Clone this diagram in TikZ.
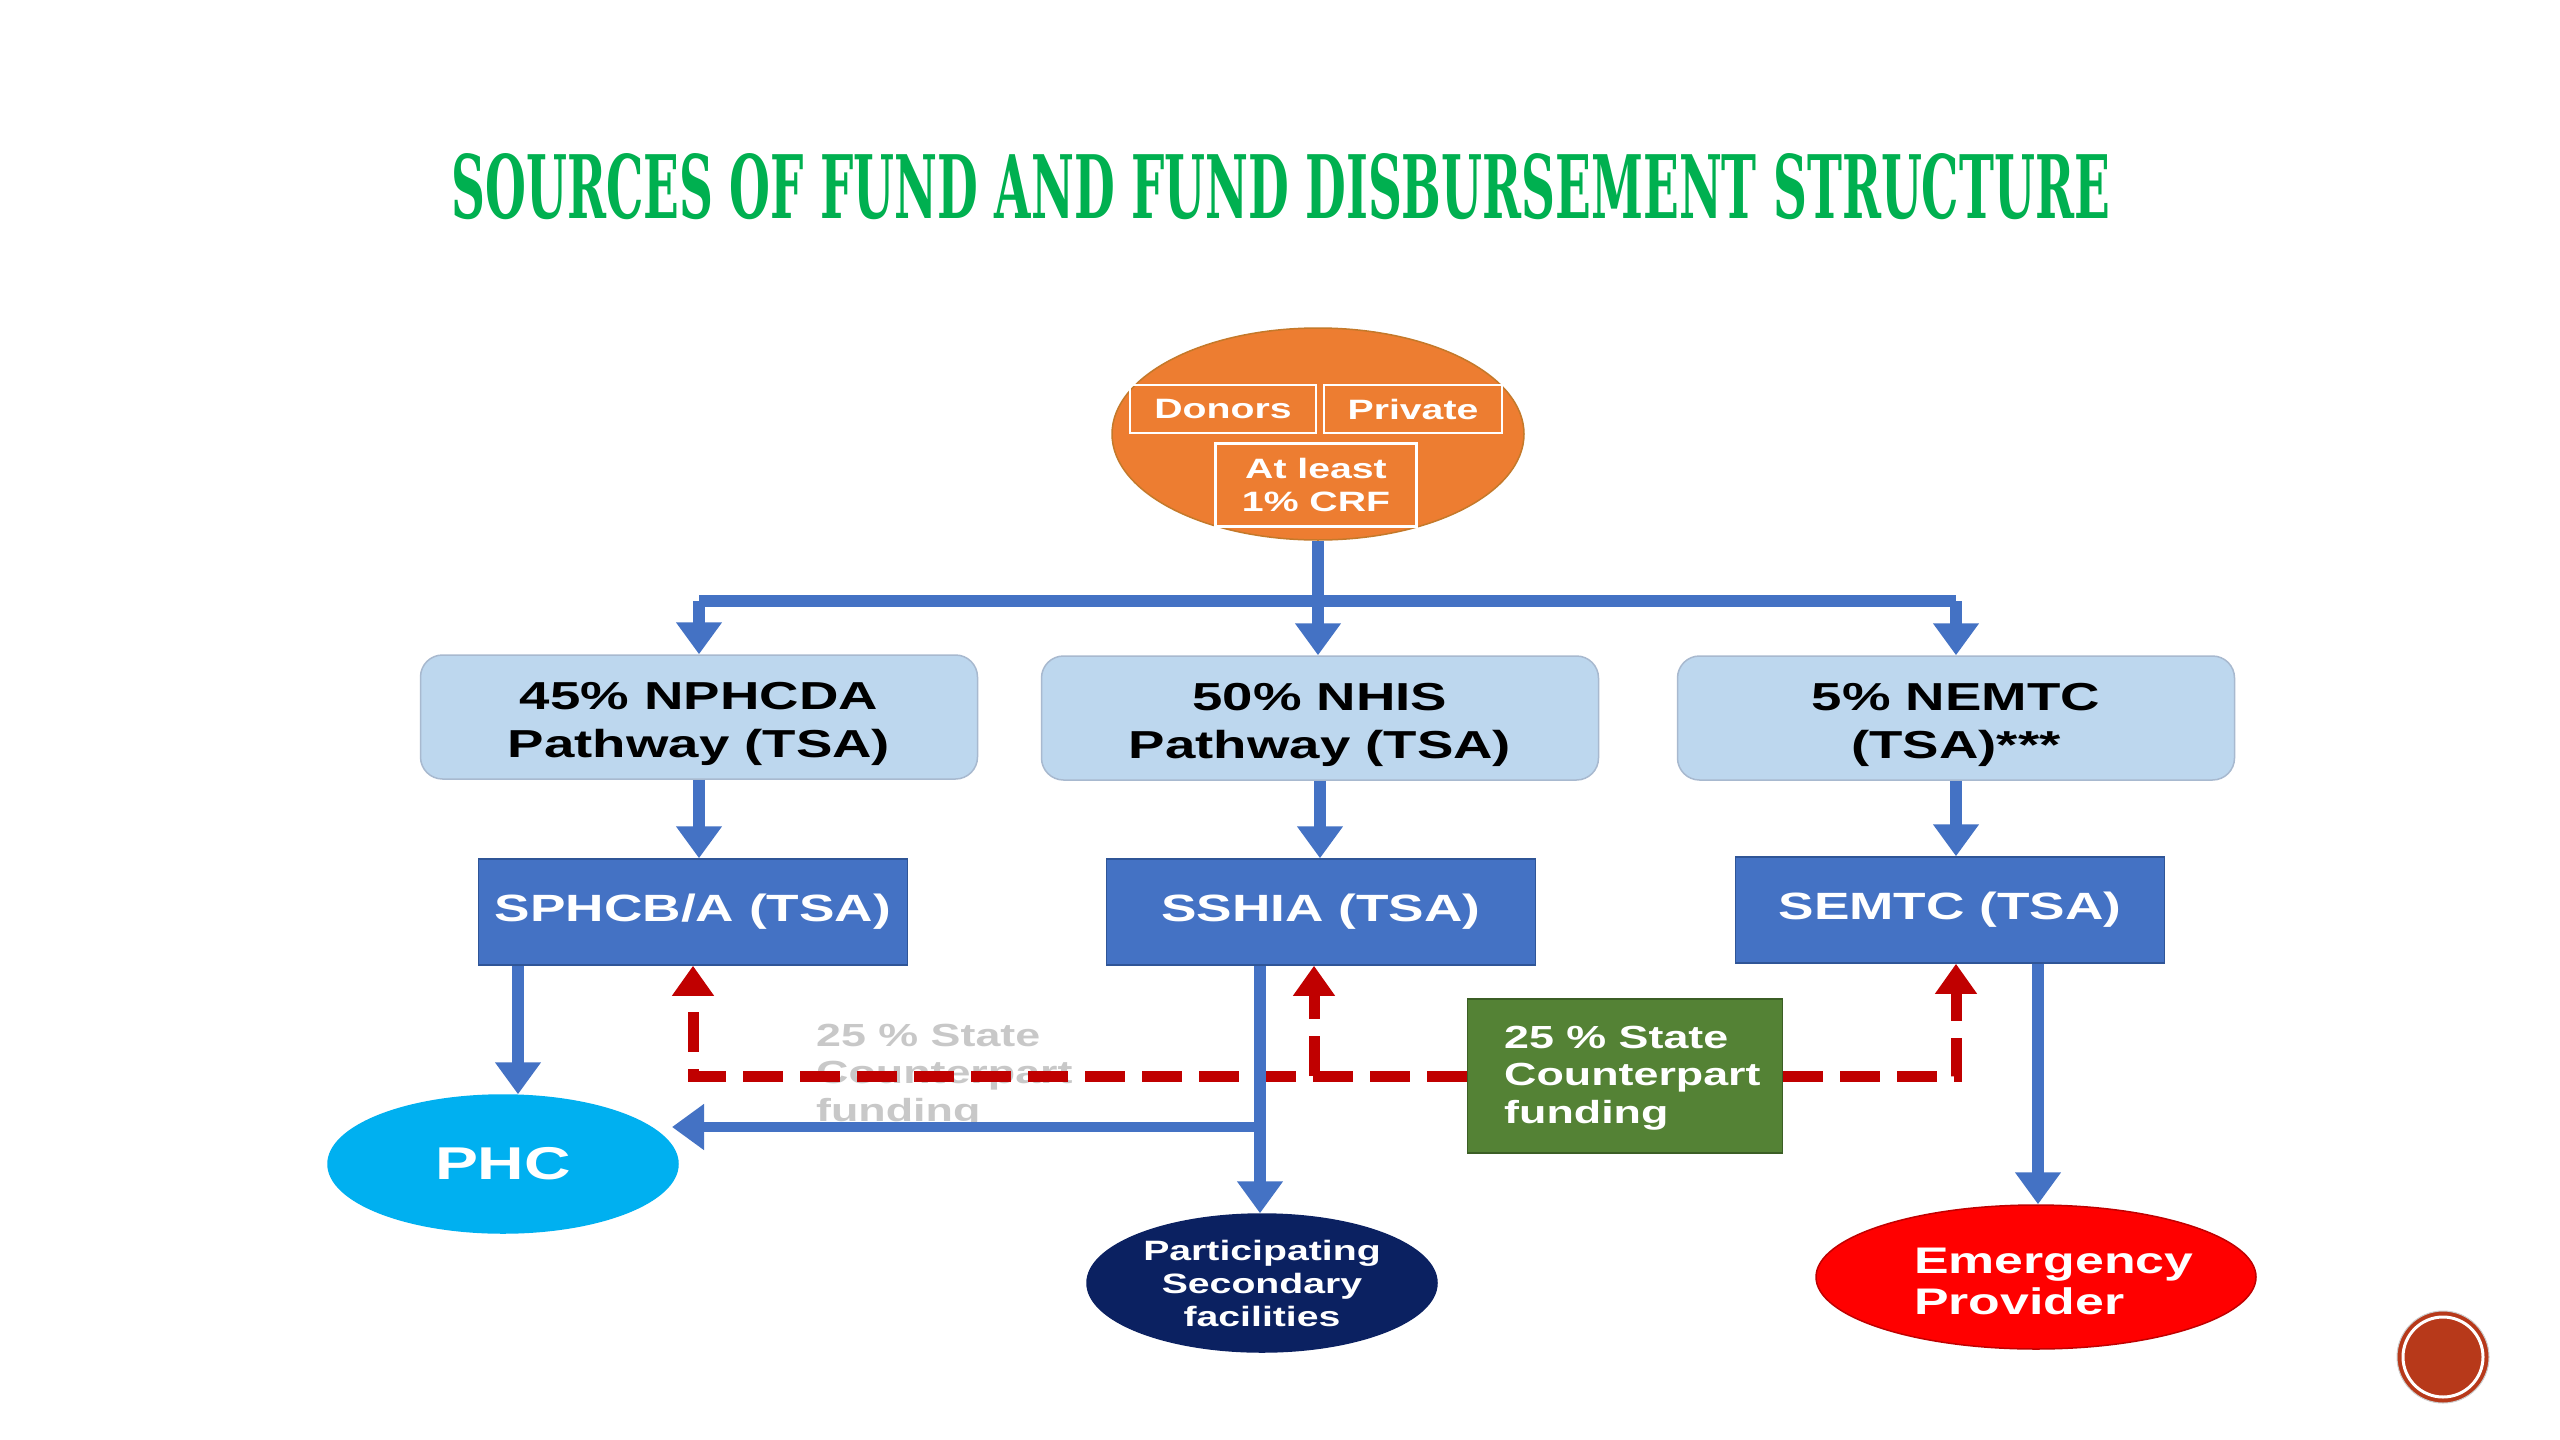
\documentclass[tikz,border=0pt]{standalone}
\usepackage{fontspec}
\usepackage{graphicx}
\setmainfont{Liberation Sans}[FakeStretch=1.4]
\newfontfamily\titlefont{DejaVu Serif}
\usetikzlibrary{shapes.geometric,arrows.meta,calc}
\definecolor{titlegreen}{HTML}{00B050}
\definecolor{orangefill}{HTML}{ED7D31}
\definecolor{orangeedge}{HTML}{C4792A}
\definecolor{lightblue}{HTML}{BDD7EE}
\definecolor{lightedge}{HTML}{A8B9CF}
\definecolor{midblue}{HTML}{4472C4}
\definecolor{midedge}{HTML}{2F5597}
\definecolor{phcblue}{HTML}{00B0F0}
\definecolor{navy}{HTML}{0B2161}
\definecolor{emred}{HTML}{FF0000}
\definecolor{emedge}{HTML}{C00000}
\definecolor{boxgreen}{HTML}{548235}
\definecolor{greenedge}{HTML}{3B5E25}
\definecolor{dashred}{HTML}{C00000}
\definecolor{badgecol}{HTML}{B7391A}
\definecolor{fadegray}{HTML}{C8C8C8}
\tikzset{
  lbox/.style={draw=lightedge, fill=lightblue, rounded corners=22pt, line width=1.5pt,
    minimum width=557pt, minimum height=124pt, inner sep=0pt},
  ltext/.style={align=center, inner sep=0pt,
    font=\fontsize{39}{48}\selectfont\bfseries, text=black},
  dbox/.style={draw=midedge, fill=midblue, line width=1.5pt, inner sep=0pt,
    minimum width=429pt, minimum height=106pt,
    font=\fontsize{38}{46}\selectfont\bfseries, text=white},
  ell/.style={ellipse, inner sep=0pt, line width=1.5pt, align=center, text=white},
  wbox/.style={draw=white, line width=2.5pt, align=center, text=white, inner sep=0pt,
    font=\fontsize{28}{33}\selectfont\bfseries},
  bluearr/.style={draw=midblue, line width=12pt, -{Triangle[width=44pt,length=32pt]}},
  blueline/.style={draw=midblue, line width=12pt},
  redarr/.style={draw=dashred, line width=11pt, dash pattern=on 40pt off 17pt,
    -{Triangle[width=40pt,length=30pt]}},
  cptext/.style={align=left, inner sep=0pt, font=\fontsize{32}{37.5}\selectfont\bfseries}
}
\begin{document}
\begin{tikzpicture}[x=1pt,y=-1pt]
\useasboundingbox[fill=white] (0,0) rectangle (2560,1440);

% title
\node[anchor=south, inner sep=0pt, text=titlegreen] (title) at (1281,220)
  {\resizebox{1658pt}{65pt}{\titlefont\bfseries SOURCES OF FUND AND FUND DISBURSEMENT STRUCTURE}};

% sources ellipse
\node[ell, fill=orangefill, draw=orangeedge, minimum width=412pt, minimum height=212pt] (src) at (1318,434) {};
\node[wbox, minimum width=186pt, minimum height=48pt] (donors) at (1223,409) {Donors};
\node[wbox, minimum width=178pt, minimum height=48pt] (private) at (1413,409) {Private};
\node[wbox, minimum width=201pt, minimum height=83pt] (crf) at (1316,485) {At least\\1\% CRF};

% pathway boxes
\node[lbox] (np) at (699,717) {};
\node[ltext] (nptext) at (699,724) {45\% NPHCDA\\Pathway (TSA)};
\node[lbox] (nh) at (1320,718) {};
\node[ltext] (nhtext) at (1320,725) {50\% NHIS\\Pathway (TSA)};
\node[lbox] (ne) at (1956,718) {};
\node[ltext] (netext) at (1956,725) {5\% NEMTC\\(TSA)***};

% TSA boxes
\node[dbox] (sp) at (693,912) {SPHCB/A (TSA)};
\node[dbox] (ss) at (1321,912) {SSHIA (TSA)};
\node[dbox] (se) at (1950,910) {SEMTC (TSA)};

% providers
\node[ell, fill=phcblue, draw=phcblue, minimum width=350pt, minimum height=138pt,
  font=\fontsize{46}{50}\selectfont\bfseries] (phc) at (503,1164) {PHC};
\node[ell, fill=navy, draw=navy, minimum width=350pt, minimum height=138pt,
  font=\fontsize{28}{33}\selectfont\bfseries] (psf) at (1262,1283) {Participating\\Secondary\\facilities};
\node[ell, fill=emred, draw=emedge, minimum width=440pt, minimum height=144pt] (emp) at (2036,1277) {};
\node[anchor=west, align=left, inner sep=0pt, text=white,
  font=\fontsize{37}{41}\selectfont\bfseries] (emtext) at (1914,1281) {Emergency\\Provider};

% faded text
\node[cptext, anchor=west, text=fadegray] (fade) at (816,1076) {25 \% State\\Counterpart\\funding};

% green box
\node[draw=greenedge, fill=boxgreen, line width=1.5pt, minimum width=315pt, minimum height=154pt, inner sep=0pt] (grn) at (1625,1076) {};
\node[cptext, anchor=west, text=white] (grntext) at (1504,1078) {25 \% State\\Counterpart\\funding};

% coordinates
\coordinate (split) at (1318,601);
\coordinate (xphc) at (518,0);
\coordinate (xsec) at (1260,0);
\coordinate (xem) at (2038,0);
\coordinate (branch) at (1260,1127);
\coordinate (phcin) at (672,1127);
\coordinate (redmid) at (1314,1076);

% top distribution
\draw[blueline] (np.north |- split) -- (ne.north |- split);
\draw[bluearr] (src.south) -- (nh.north -| src.south);
\draw[bluearr] (np.north |- split) -- (np.north);
\draw[bluearr] (ne.north |- split) -- (ne.north);

% pathway to TSA
\draw[bluearr] (np.south) -- (sp.north -| np.south);
\draw[bluearr] (nh.south) -- (ss.north -| nh.south);
\draw[bluearr] (ne.south) -- (se.north -| ne.south);

% red dashed counterpart
\draw[redarr] (grn.west) -| (sp.south);
\draw[redarr] (redmid) -- (ss.south -| redmid);
\draw[redarr] (grn.east) -| (se.south -| ne.south);

% TSA to providers
\draw[bluearr] (sp.south -| xphc) -- (phc.north -| xphc);
\draw[bluearr] (ss.south -| xsec) -- (psf.north -| xsec);
\draw[bluearr, line width=10pt] (branch) -- (phcin);
\draw[bluearr] (se.south -| xem) -- (emp.north -| xem);

% badge
\node[circle, fill=badgecol, draw=gray!40, line width=1pt, minimum size=92pt, inner sep=0pt] (badge) at (2443,1357) {};
\draw[white, line width=3pt] (badge.center) circle (40pt);
\end{tikzpicture}
\end{document}
